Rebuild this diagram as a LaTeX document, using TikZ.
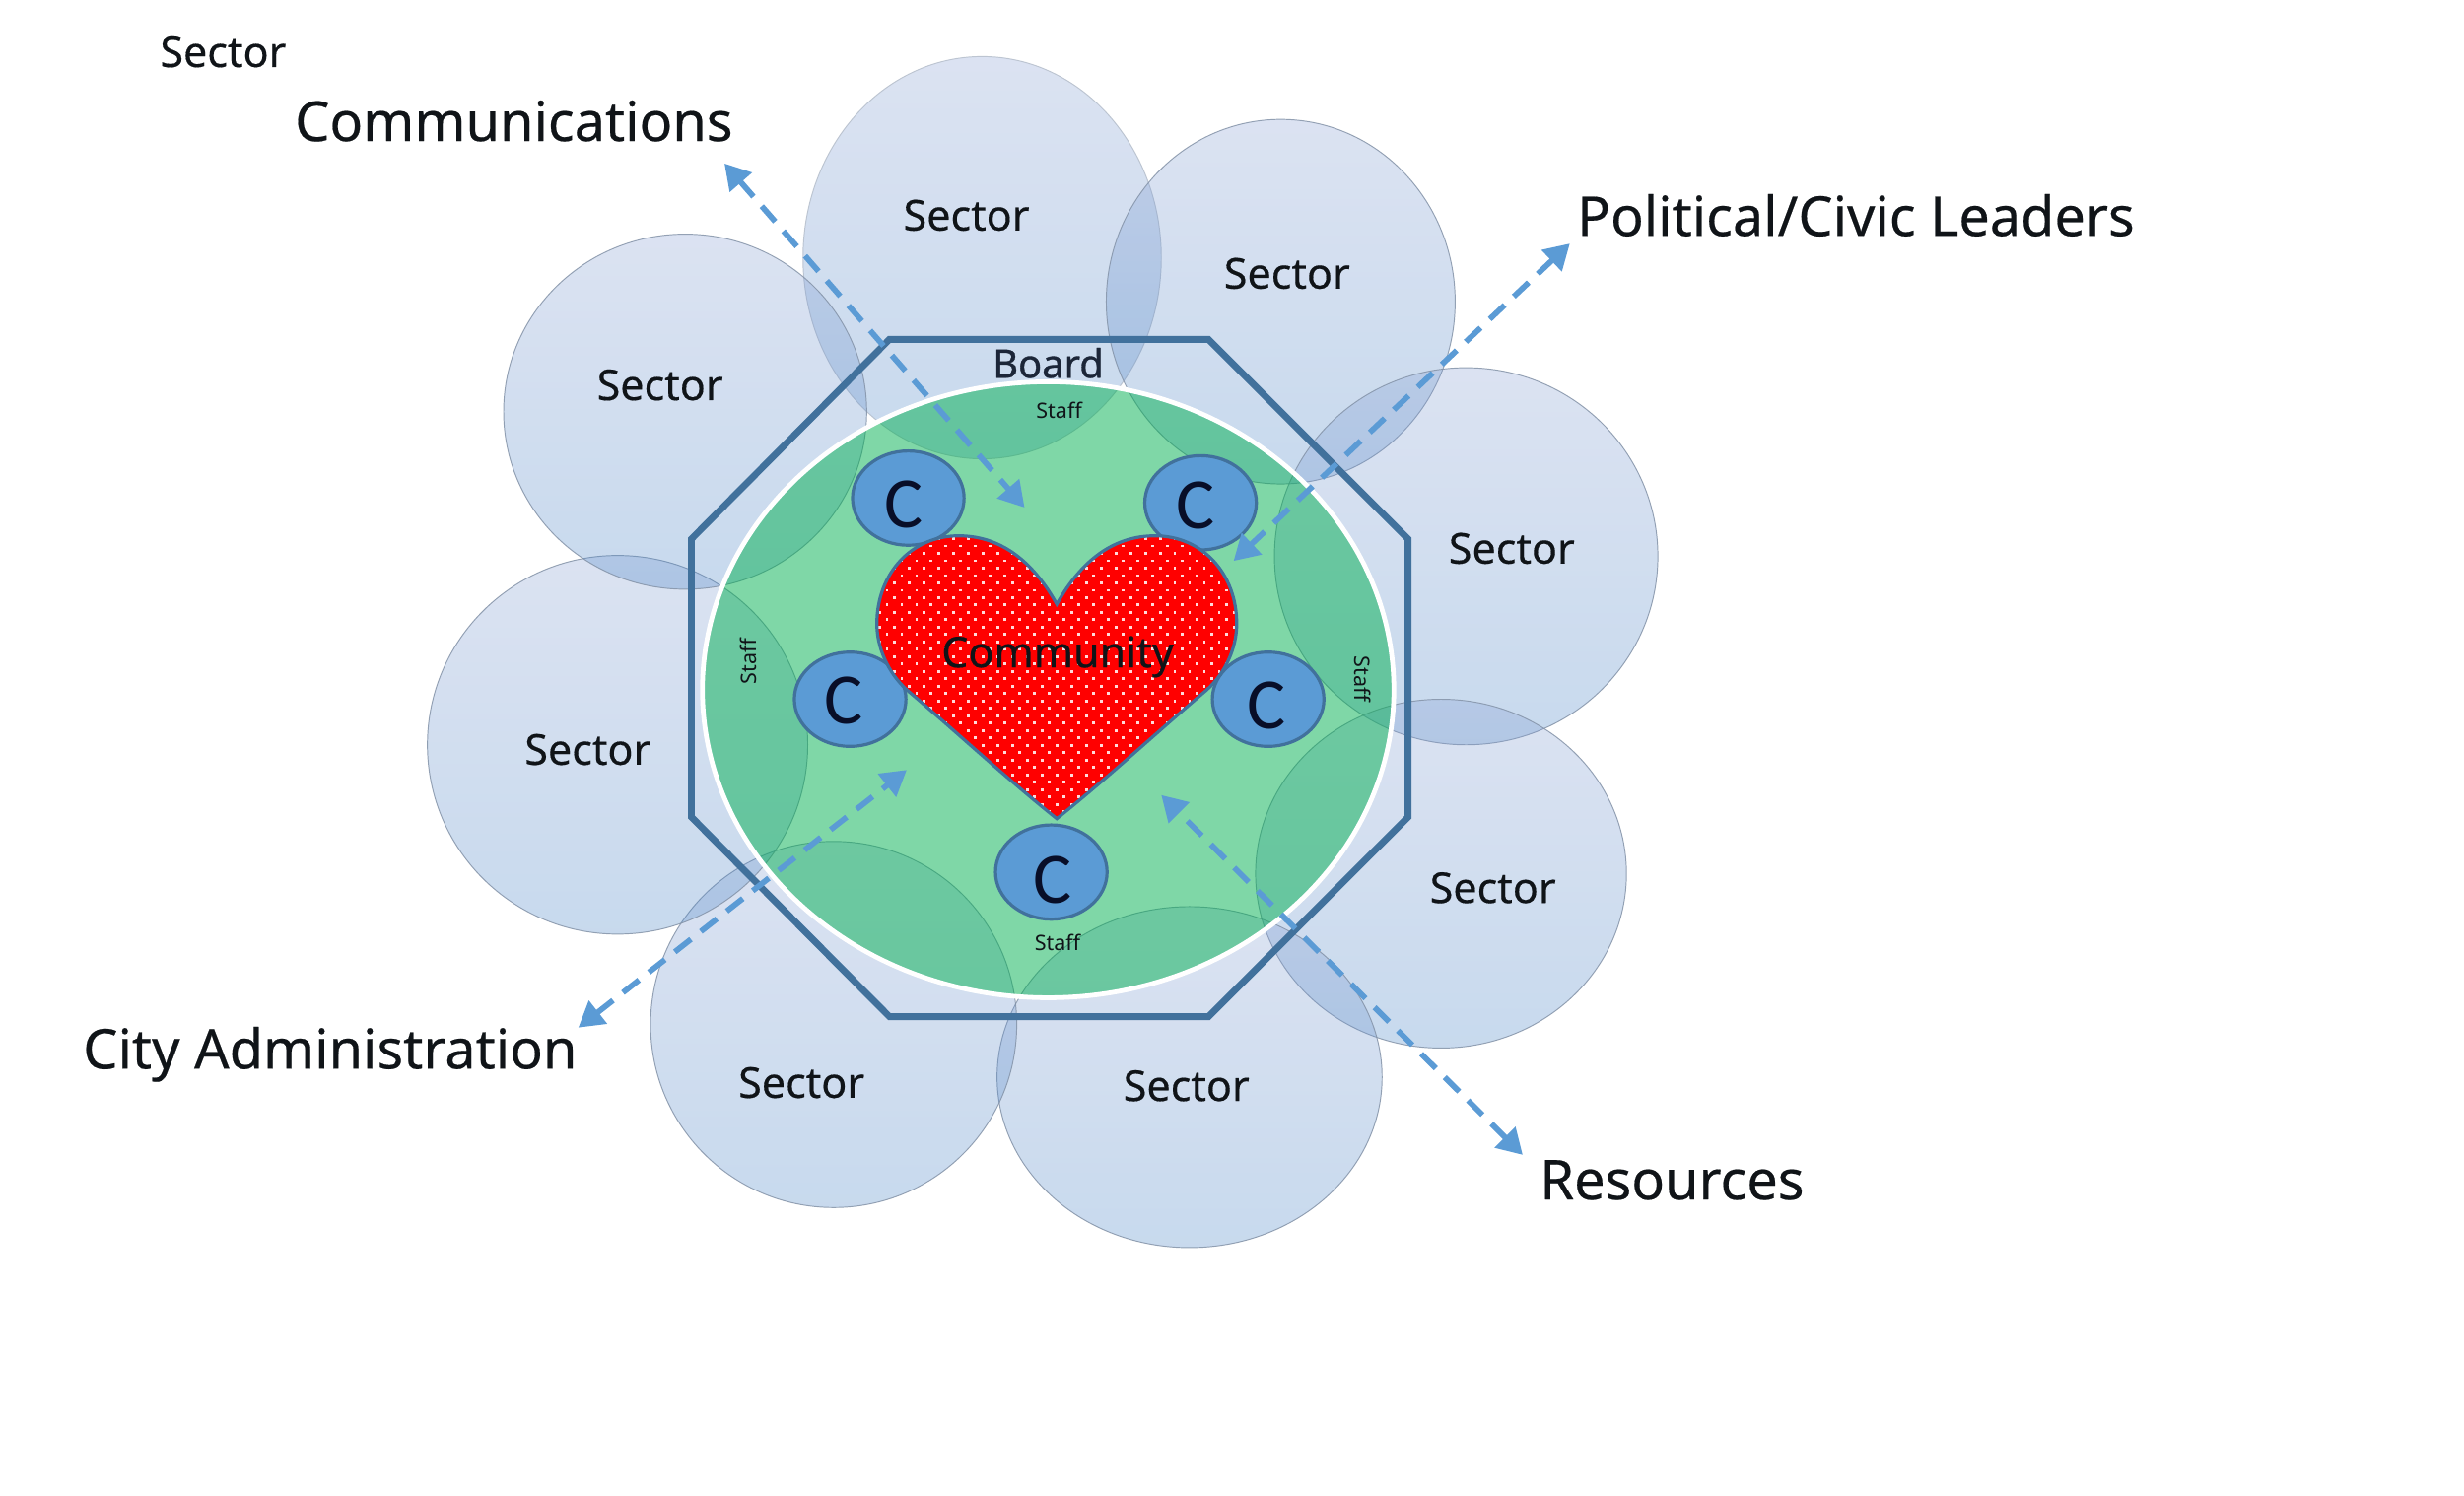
\documentclass[tikz,border=0pt]{standalone}
\usepackage{fontspec}
\setmainfont{Noto Sans}
\newfontfamily\labelfont{Noto Sans}[FakeBold=0.35]
\newfontfamily\boardfont{Noto Sans}[FakeBold=0.8]
\newfontfamily\cfont{Carlito}
\usetikzlibrary{shapes.geometric,arrows.meta}
\definecolor{ringline}{HTML}{8493A8}
\definecolor{ringtop}{RGB}{138,162,212}
\definecolor{ringbot}{RGB}{72,132,198}
\definecolor{octa}{HTML}{41719C}
\definecolor{cfill}{HTML}{5B9BD5}
\definecolor{cline}{HTML}{41719C}
\definecolor{arrowc}{HTML}{5B9BD5}
\definecolor{txt}{HTML}{101418}
\tikzset{
  x=1pt,y=-1pt,
  ring/.style={ellipse,inner sep=0pt,outer sep=0pt,draw=ringline,line width=0.6pt,top color=ringtop,bottom color=ringbot,fill opacity=0.3,draw opacity=0.85},
  cbox/.style={ellipse,inner sep=0pt,outer sep=0pt,fill=cfill,draw=cline,line width=2pt,minimum width=71pt,minimum height=60pt},
  clabel/.style={text={rgb,255:red,8;green,14;blue,40},font=\cfont\fontsize{46}{46}\selectfont,inner sep=0pt},
  seclabel/.style={text=txt,font=\labelfont\fontsize{27}{27}\selectfont,inner sep=0pt},
  boardlabel/.style={text={rgb,255:red,28;green,38;blue,56},font=\boardfont\fontsize{25}{25}\selectfont,inner sep=0pt},
  biglabel/.style={text=txt,font=\labelfont\fontsize{35}{35}\selectfont,inner sep=0pt},
  stafflabel/.style={text=txt,font=\fontsize{13.5}{14}\selectfont,inner sep=0pt},
  flow/.style={draw=arrowc,line width=3.6pt,dash pattern=on 13pt off 8pt,{Triangle[length=16pt,width=18pt]}-{Triangle[length=16pt,width=18pt]}}
}
\begin{document}
\begin{tikzpicture}
\useasboundingbox (0,0) rectangle (1568,952);
\fill[white] (0,0) rectangle (1568,952);
% sector circles
\node[ring,draw=ringline!60,minimum width=228pt,minimum height=256pt] (r1) at (625,164) {};
\node[ring,minimum width=222pt,minimum height=232pt] (r2) at (815,192) {};
\node[ring,minimum width=244pt,minimum height=240pt] (r3) at (933,354) {};
\node[ring,minimum width=236pt,minimum height=222pt] (r4) at (917,556) {};
\node[ring,minimum width=245pt,minimum height=217pt] (r5) at (757,685.5) {};
\node[ring,minimum width=233pt,minimum height=233pt] (r6) at (530.5,652) {};
\node[ring,minimum width=242pt,minimum height=241pt] (r7) at (393,474) {};
\node[ring,minimum width=231pt,minimum height=226pt] (r8) at (436,262) {};
% green staff ellipse
\node[ellipse,inner sep=0pt,minimum width=440pt,minimum height=392pt,fill={rgb,255:red,0;green,176;blue,80},fill opacity=0.5] (staffzone) at (667,439) {};
\node[ellipse,inner sep=0pt,minimum width=440pt,minimum height=392pt,draw=white,line width=3pt] (staffedge) at (667,439) {};
% board
\draw[octa,line width=4.3pt,line join=miter] (566,216) -- (769,216) -- (896,343) -- (896,520) -- (769,647) -- (566,647) -- (440,520) -- (440,343) -- cycle;
% C nodes
\node[cbox] (c1) at (578,317) {};
\node[cbox] (c2) at (764,320) {};
\node[cbox] (c3) at (541,445) {};
\node[cbox] (c4) at (807,445) {};
\node[cbox] (c5) at (669,555) {};
\node[clabel] (c1t) at (575,321) {C};
\node[clabel] (c2t) at (761,322) {C};
\node[clabel] (c3t) at (537,446) {C};
\node[clabel] (c4t) at (806,449) {C};
\node[clabel] (c5t) at (670,560) {C};
% heart
\def\heartpath{(672.5,384.5) .. controls (656,355) and (635,341) .. (610,341) .. controls (580,341) and (558,365) .. (558,397) .. controls (558,412) and (565,428) .. (577,439) .. controls (610,467) and (640,495) .. (672.5,521) .. controls (705,495) and (735,467) .. (768,439) .. controls (780,428) and (787,412) .. (787,397) .. controls (787,365) and (765,341) .. (735,341) .. controls (710,341) and (689,355) .. (672.5,384.5) -- cycle}
\fill[red] \heartpath;
\begin{scope}
\clip \heartpath;
\foreach \r in {0,...,40}{
  \foreach \k in {0,...,25}{
    \pgfmathsetmacro{\xx}{555+\k*9.4+mod(\r,2)*4.7}
    \pgfmathsetmacro{\yy}{338+\r*4.7}
    \fill[white!85!red] (\xx-0.85,\yy-0.85) rectangle (\xx+0.85,\yy+0.85);
  }
}
\end{scope}
\draw[cline,line width=2pt,line join=miter] \heartpath;
% arrows
\coordinate (a1s) at (461,104); \coordinate (a1e) at (652,323);
\coordinate (a2s) at (999,155); \coordinate (a2e) at (785,357);
\coordinate (a3s) at (368,654); \coordinate (a3e) at (577,490);
\coordinate (a4s) at (969,735); \coordinate (a4e) at (739,506);
\draw[flow] (a1s) -- (a1e);
\draw[flow] (a2s) -- (a2e);
\draw[flow] (a3s) -- (a3e);
\draw[flow] (a4s) -- (a4e);
% labels
\node[seclabel] (s0) at (142,33) {Sector};
\node[seclabel] (s1) at (615,137) {Sector};
\node[seclabel] (s2) at (819,174) {Sector};
\node[seclabel] (s3) at (962,349) {Sector};
\node[seclabel] (s4) at (950,565) {Sector};
\node[seclabel] (s5) at (755,691) {Sector};
\node[seclabel] (s6) at (510,689) {Sector};
\node[seclabel] (s7) at (374,477) {Sector};
\node[seclabel] (s8) at (420,245) {Sector};
\node[biglabel] (l1) at (327,77) {Communications};
\node[biglabel] (l2) at (1181,137) {Political/Civic Leaders};
\node[biglabel] (l3) at (210,671) {City Administration};
\node[biglabel] (l4) at (1064,751) {Resources};
\node[boardlabel] (board) at (667,231) {Board};
\node[seclabel] (comm) at (673,418) {Community};
\node[stafflabel] (st1) at (674,261) {Staff};
\node[stafflabel] (st2) at (673,600) {Staff};
\node[stafflabel,rotate=90] (st3) at (476,421) {Staff};
\node[stafflabel,rotate=-90] (st4) at (867,432) {Staff};
\end{tikzpicture}
\end{document}
